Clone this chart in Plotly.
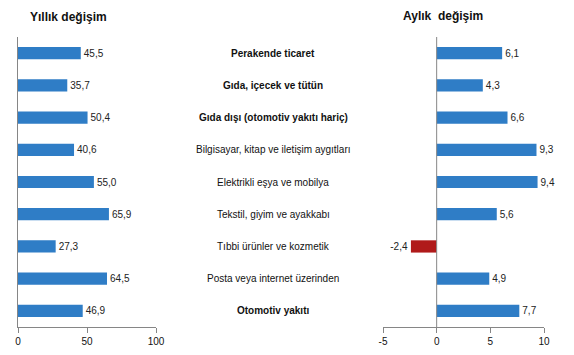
import plotly.graph_objects as go

categories = [
    "Perakende ticaret",
    "Gıda, içecek ve tütün",
    "Gıda dışı (otomotiv yakıtı hariç)",
    "Bilgisayar, kitap ve iletişim aygıtları",
    "Elektrikli eşya ve mobilya",
    "Tekstil, giyim ve ayakkabı",
    "Tıbbi ürünler ve kozmetik",
    "Posta veya internet üzerinden",
    "Otomotiv yakıtı",
]
bold_cats = [True, True, True, False, False, False, False, False, True]
annual = [45.5, 35.7, 50.4, 40.6, 55.0, 65.9, 27.3, 64.5, 46.9]
monthly = [6.1, 4.3, 6.6, 9.3, 9.4, 5.6, -2.4, 4.9, 7.7]
annual_ticks = [0, 50, 100]
monthly_ticks = [-5, 0, 5, 10]

BLUE = "#2F7DC6"
RED = "#B01A1A"
FONT = "Liberation Sans, Arial, sans-serif"

W, H = 574, 355
MT, MB = 37, 28
PH = H - MT - MB


def fmt(v):
    return f"{v:.1f}".replace(".", ",")


def py(px):
    # pixel row from top -> paper y
    return (H - MB - px) / PH


ypos = list(range(len(categories)))

fig = go.Figure()
fig.add_trace(go.Bar(
    x=annual, y=ypos, orientation="h", xaxis="x", yaxis="y",
    marker=dict(color=BLUE, line=dict(width=0)), width=0.38,
    text=[fmt(v) for v in annual], textposition="outside",
    textfont=dict(size=10, color="#222", family=FONT), cliponaxis=False,
))
fig.add_trace(go.Bar(
    x=monthly, y=ypos, orientation="h", xaxis="x2", yaxis="y2",
    marker=dict(color=[RED if v < 0 else BLUE for v in monthly], line=dict(width=0)), width=0.38,
    text=[fmt(v) for v in monthly], textposition="outside",
    textfont=dict(size=10, color="#222", family=FONT), cliponaxis=False,
))

for i, (c, b) in enumerate(zip(categories, bold_cats)):
    fig.add_annotation(
        x=273 / W, xref="paper", y=i, yref="y", text=f"<b>{c}</b>" if b else c,
        showarrow=False, xanchor="center", yanchor="middle",
        font=dict(size=10, color="#111", family=FONT),
    )

fig.add_annotation(x=28 / W, xref="paper", y=py(17), yref="paper", text="<b>Yıllık değişim</b>",
                   showarrow=False, xanchor="left", yanchor="middle",
                   font=dict(size=12, color="#111", family=FONT))
fig.add_annotation(x=401 / W, xref="paper", y=py(16), yref="paper", text="<b>Aylık  değişim</b>",
                   showarrow=False, xanchor="left", yanchor="middle",
                   font=dict(size=12, color="#111", family=FONT))

axis_common = dict(showgrid=False, zeroline=False, showline=True, linecolor="#868686",
                   ticks="outside", ticklen=5, tickcolor="#868686", automargin=False,
                   tickfont=dict(size=10, color="#111", family=FONT), fixedrange=True)

fig.update_layout(
    width=W, height=H,
    margin=dict(l=0, r=0, t=MT, b=MB, autoexpand=False),
    paper_bgcolor="white", plot_bgcolor="white",
    showlegend=False,
    font=dict(family=FONT),
    xaxis=dict(domain=[18 / W, 156 / W], range=[0, 100], tickvals=annual_ticks,
               ticktext=[str(t) for t in annual_ticks], **axis_common),
    xaxis2=dict(domain=[383 / W, 544 / W], range=[-5, 10], tickvals=monthly_ticks,
                ticktext=[str(t) for t in monthly_ticks], **axis_common),
    yaxis=dict(domain=[0, 1], range=[8.5, -0.5], showticklabels=False, showgrid=False, automargin=False,
               zeroline=False, showline=True, linecolor="#868686", ticks="", anchor="x", fixedrange=True),
    yaxis2=dict(domain=[0, 1], range=[8.5, -0.5], showticklabels=False, showgrid=False, automargin=False,
                zeroline=False, showline=False, ticks="", anchor="x2", fixedrange=True),
)
# vertical line at 0 on the right panel
fig.add_shape(type="line", xref="x2", yref="paper", x0=0, x1=0, y0=0, y1=1,
              line=dict(color="#868686", width=1))

fig.write_html("out.html", config={"displayModeBar": False},
               post_script="document.body.style.margin='0';document.body.style.padding='0';")
